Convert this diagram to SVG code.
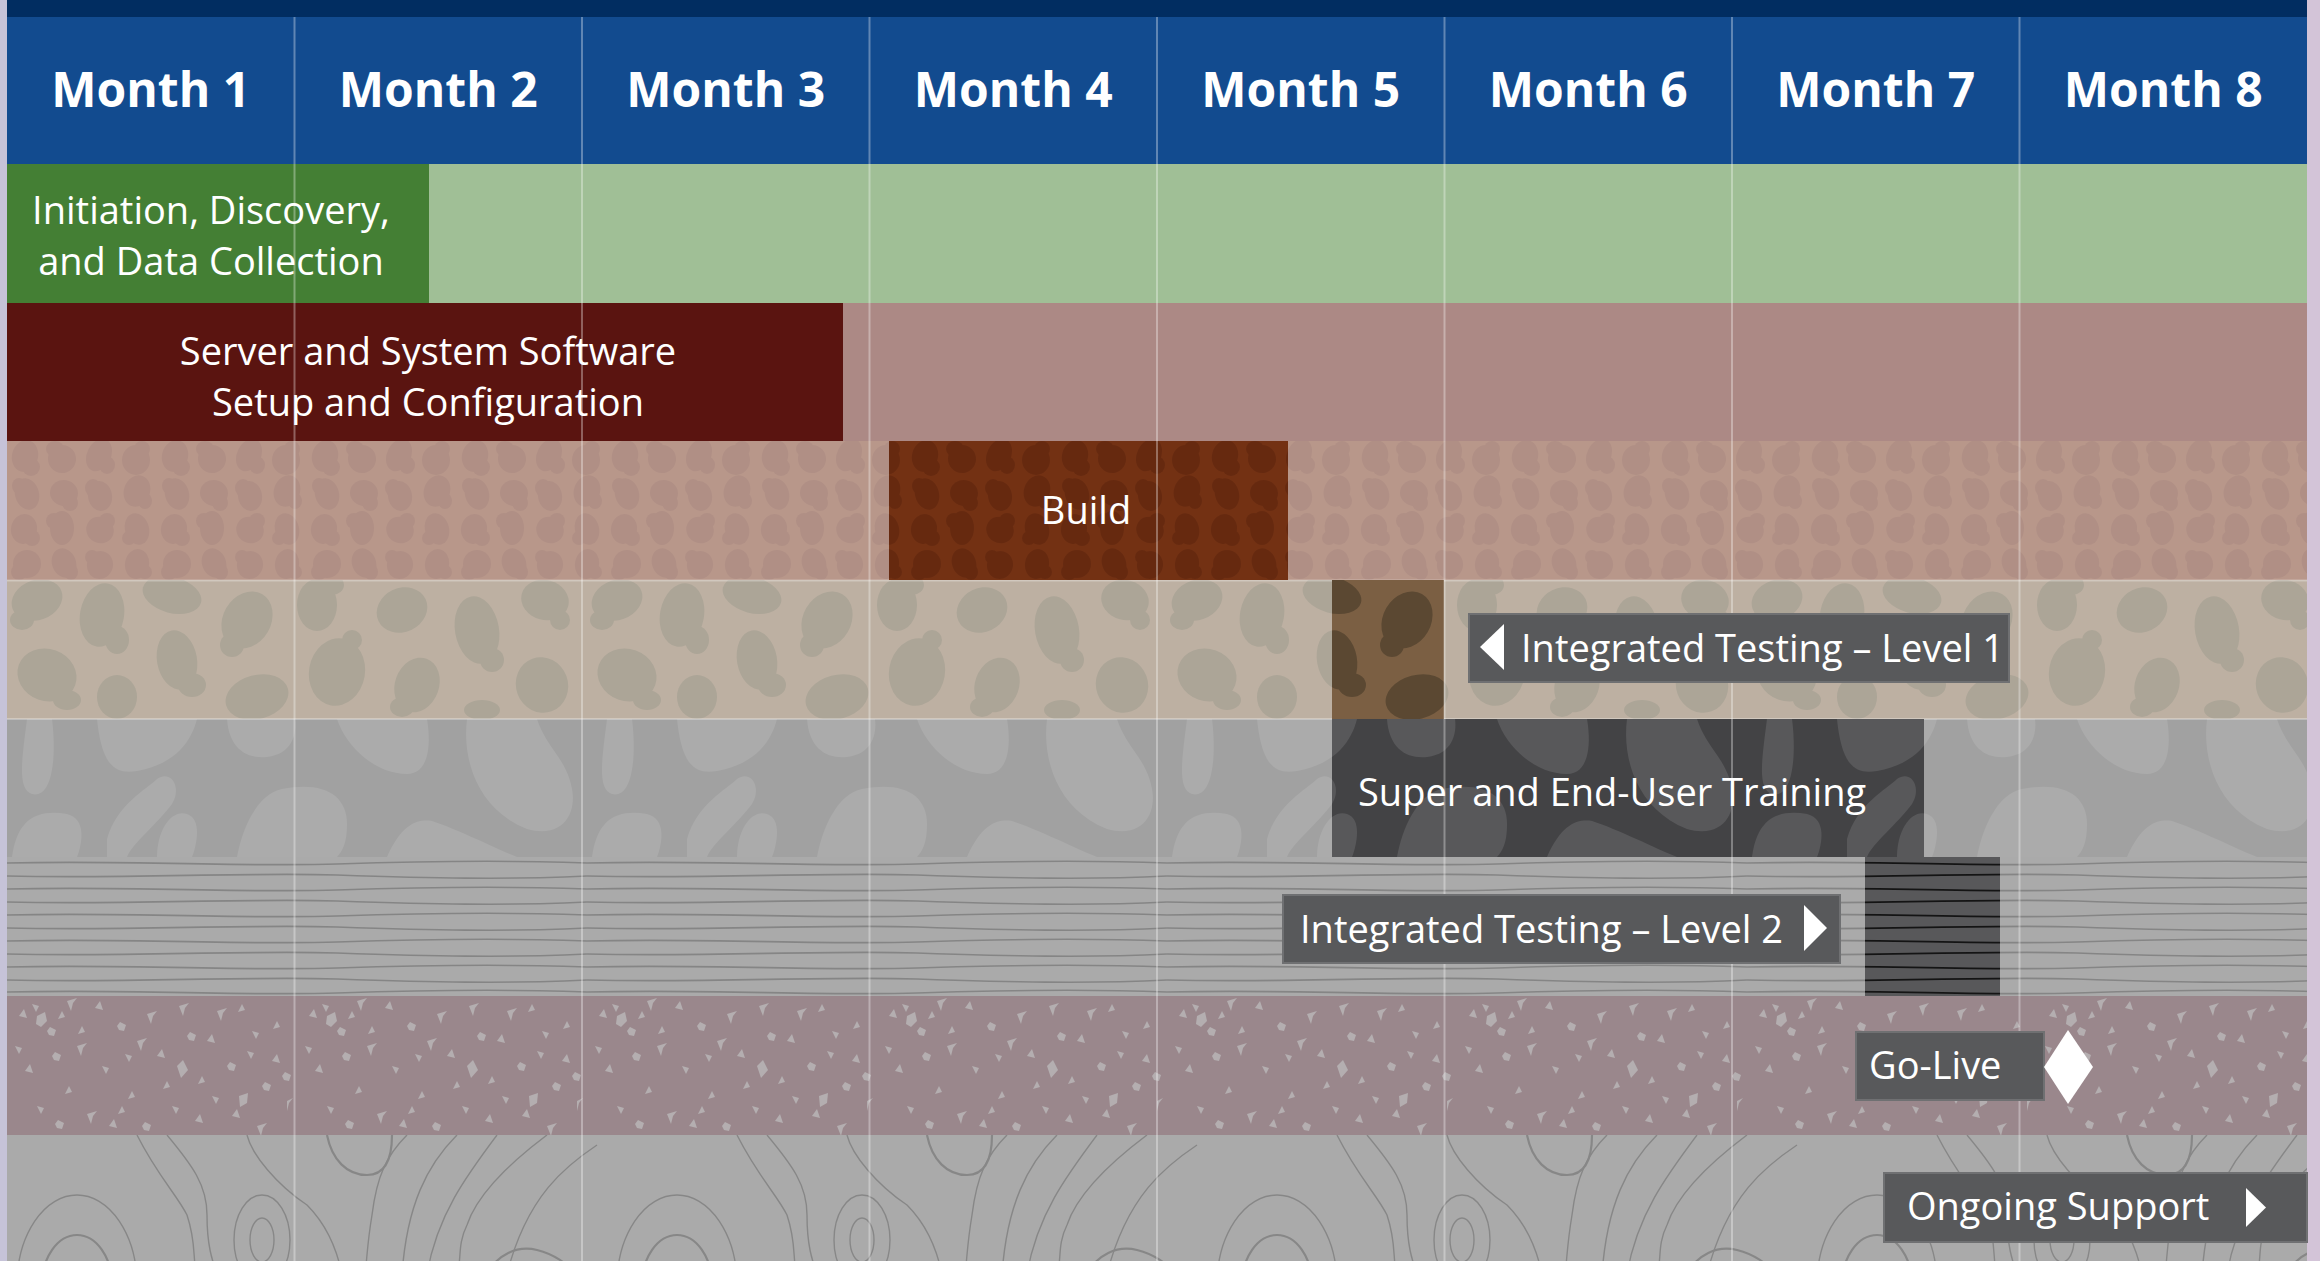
<svg xmlns="http://www.w3.org/2000/svg" xmlns:xlink="http://www.w3.org/1999/xlink" width="2320" height="1261" viewBox="0 0 2320 1261">
<style>
.month{font-family:"Open Sans","Noto Sans",sans-serif;font-weight:700;font-size:48px;fill:#fff;text-anchor:middle}
.lbl{font-family:"Open Sans","Noto Sans",sans-serif;font-size:38px;fill:#fff}
.mid{text-anchor:middle}
.box{fill:#58595b;stroke:#6f7072;stroke-width:2}
.arrow{fill:#fff}
.grid{stroke:#fff;stroke-opacity:0.33;stroke-width:2}
.sep{stroke:#fff;stroke-opacity:0.3;stroke-width:2}
</style>
<defs>
<g id="leoShapes">
<ellipse cx="18" cy="15" rx="13" ry="16" transform="rotate(15 18 15)"/><ellipse cx="24" cy="26" rx="9" ry="9"/>
<ellipse cx="55" cy="18" rx="14" ry="14" transform="rotate(-20 55 18)"/><ellipse cx="48" cy="8" rx="9" ry="8"/>
<ellipse cx="92" cy="14" rx="12" ry="17" transform="rotate(25 92 14)"/><ellipse cx="100" cy="24" rx="8" ry="9"/>
<ellipse cx="129" cy="19" rx="14" ry="15"/><ellipse cx="135" cy="8" rx="8" ry="8"/>
<ellipse cx="20" cy="53" rx="12" ry="16" transform="rotate(-15 20 53)"/><ellipse cx="12" cy="45" rx="7" ry="8"/>
<ellipse cx="57" cy="52" rx="14" ry="13" transform="rotate(10 57 52)"/><ellipse cx="63" cy="62" rx="8" ry="8"/>
<ellipse cx="93" cy="55" rx="12" ry="15" transform="rotate(-10 93 55)"/><ellipse cx="86" cy="47" rx="8" ry="9"/>
<ellipse cx="130" cy="50" rx="13" ry="16" transform="rotate(20 130 50)"/><ellipse cx="138" cy="60" rx="7" ry="8"/>
<ellipse cx="17" cy="88" rx="13" ry="15" transform="rotate(10 17 88)"/><ellipse cx="25" cy="97" rx="8" ry="8"/>
<ellipse cx="55" cy="87" rx="12" ry="17"/><ellipse cx="47" cy="80" rx="8" ry="8"/>
<ellipse cx="93" cy="89" rx="14" ry="13" transform="rotate(30 93 89)"/><ellipse cx="100" cy="80" rx="8" ry="8"/>
<ellipse cx="130" cy="88" rx="12" ry="16" transform="rotate(-15 130 88)"/><ellipse cx="122" cy="97" rx="7" ry="7"/>
<ellipse cx="20" cy="123" rx="14" ry="14"/><ellipse cx="12" cy="131" rx="8" ry="8"/>
<ellipse cx="57" cy="122" rx="12" ry="15" transform="rotate(-20 57 122)"/><ellipse cx="64" cy="131" rx="7" ry="8"/>
<ellipse cx="93" cy="124" rx="13" ry="14" transform="rotate(15 93 124)"/><ellipse cx="85" cy="116" rx="7" ry="7"/>
<ellipse cx="130" cy="123" rx="12" ry="15" transform="rotate(10 130 123)"/><ellipse cx="138" cy="131" rx="7" ry="7"/>
</g>
<g id="blobShapes">
<ellipse cx="30" cy="20" rx="26" ry="20" transform="rotate(-20 30 20)"/><ellipse cx="15" cy="40" rx="12" ry="10"/>
<ellipse cx="95" cy="35" rx="22" ry="32" transform="rotate(10 95 35)"/><ellipse cx="110" cy="60" rx="12" ry="14"/>
<ellipse cx="165" cy="15" rx="30" ry="18" transform="rotate(15 165 15)"/>
<ellipse cx="170" cy="80" rx="20" ry="30" transform="rotate(-10 170 80)"/><ellipse cx="185" cy="105" rx="14" ry="12"/>
<ellipse cx="40" cy="95" rx="30" ry="26" transform="rotate(20 40 95)"/><ellipse cx="60" cy="120" rx="14" ry="10"/>
<ellipse cx="110" cy="117" rx="20" ry="22"/>
<ellipse cx="240" cy="40" rx="24" ry="30" transform="rotate(30 240 40)"/><ellipse cx="225" cy="65" rx="12" ry="12"/>
<ellipse cx="250" cy="117" rx="32" ry="22" transform="rotate(-15 250 117)"/>
<ellipse cx="310" cy="25" rx="20" ry="26"/><ellipse cx="325" cy="5" rx="12" ry="10"/>
<ellipse cx="330" cy="92" rx="28" ry="34" transform="rotate(10 330 92)"/><ellipse cx="345" cy="60" rx="10" ry="10"/>
<ellipse cx="395" cy="30" rx="26" ry="22" transform="rotate(-25 395 30)"/>
<ellipse cx="410" cy="105" rx="22" ry="28" transform="rotate(20 410 105)"/><ellipse cx="395" cy="127" rx="12" ry="10"/>
<ellipse cx="470" cy="50" rx="22" ry="34" transform="rotate(-10 470 50)"/><ellipse cx="485" cy="80" rx="12" ry="12"/>
<ellipse cx="538" cy="20" rx="24" ry="20" transform="rotate(15 538 20)"/><ellipse cx="553" cy="40" rx="10" ry="10"/>
<ellipse cx="535" cy="105" rx="26" ry="28" transform="rotate(-20 535 105)"/>
<ellipse cx="475" cy="130" rx="18" ry="10"/>
</g>
<g id="camoShapes">
<path d="M20,0 C15,40 10,70 25,75 C45,80 50,40 45,0 Z"/>
<path d="M90,0 C95,50 110,55 130,52 C170,45 185,20 190,0 Z"/>
<path d="M5,138 C10,100 30,90 60,95 C80,100 75,125 70,138 Z"/>
<path d="M230,138 C235,110 250,75 275,70 C315,62 340,75 340,105 C340,125 335,132 330,138 Z"/>
<path d="M220,0 C222,30 240,40 260,38 C285,35 290,15 288,0 Z"/>
<path d="M330,0 C340,30 370,55 400,55 C420,55 425,30 420,0 Z"/>
<path d="M380,138 C395,105 410,100 425,102 C450,110 490,130 510,138 Z"/>
<path d="M460,0 C455,40 470,90 520,110 C555,120 570,95 565,70 C560,40 540,30 530,0 Z"/>
<path d="M150,138 C150,110 165,90 180,95 C195,100 190,125 185,138 Z"/>
<path d="M100,120 C110,85 140,70 150,60 C165,50 175,70 165,85 C150,105 125,125 120,138 L100,138 Z"/>
</g>
<g id="woodLines" fill="none" stroke-width="1.6">
<path d="M0,6 C120,3 240,10 330,7 S500,3 580,6"/>
<path d="M0,19 C120,22 240,15 330,18 S500,23 580,19"/>
<path d="M0,32 C120,29 240,36 330,33 S500,29 580,32"/>
<path d="M0,45 C120,48 240,41 330,44 S500,49 580,45"/>
<path d="M0,58 C120,55 240,62 330,59 S500,55 580,58"/>
<path d="M0,71 C120,74 240,67 330,70 S500,75 580,71"/>
<path d="M0,84 C120,81 240,88 330,85 S500,81 580,84"/>
<path d="M0,97 C120,100 240,93 330,96 S500,101 580,97"/>
<path d="M0,110 C120,107 240,114 330,111 S500,107 580,110"/>
<path d="M0,123 C120,126 240,119 330,122 S500,127 580,123"/>
<path d="M0,135 C120,132 240,139 330,136 S500,132 580,135"/>
</g>
<g id="speckShapes">
<path d="M12,20 l5,-7 l3,9 z"/><path d="M25,8 l7,2 l-3,6 z"/><path d="M40,35 l3,-4 l6,3 l-2,6 l-5,-1 z"/>
<path d="M55,15 l-4,8 l7,-2 z"/><path d="M70,50 l10,-3 l-4,5 l-2,8 z"/><path d="M88,12 l5,-7 l3,9 z"/>
<path d="M95,70 l7,2 l-3,6 z"/><path d="M110,30 l3,-4 l6,3 l-2,6 l-5,-1 z"/><path d="M125,95 l-4,8 l7,-2 z"/>
<path d="M140,18 l10,-3 l-4,5 l-2,8 z"/><path d="M150,60 l5,-7 l3,9 z"/><path d="M165,110 l7,2 l-3,6 z"/>
<path d="M180,40 l3,-4 l6,3 l-2,6 l-5,-1 z"/><path d="M195,80 l-4,8 l7,-2 z"/><path d="M210,15 l10,-3 l-4,5 l-2,8 z"/>
<path d="M225,120 l5,-7 l3,9 z"/><path d="M240,55 l7,2 l-3,6 z"/><path d="M255,90 l3,-4 l6,3 l-2,6 l-5,-1 z"/>
<path d="M270,25 l-4,8 l7,-2 z"/><path d="M280,105 l6,-3 l-4,5 l-2,8 z"/><path d="M18,75 l5,-7 l3,9 z"/>
<path d="M30,110 l7,2 l-3,6 z"/><path d="M48,128 l3,-4 l6,3 l-2,6 l-5,-1 z"/><path d="M62,90 l-4,8 l7,-2 z"/>
<path d="M80,118 l10,-3 l-4,5 l-2,8 z"/><path d="M102,130 l5,-7 l3,9 z"/><path d="M118,58 l7,2 l-3,6 z"/>
<path d="M135,130 l3,-4 l6,3 l-2,6 l-5,-1 z"/><path d="M160,85 l-4,8 l7,-2 z"/><path d="M172,10 l10,-3 l-4,5 l-2,8 z"/>
<path d="M188,125 l5,-7 l3,9 z"/><path d="M205,100 l7,2 l-3,6 z"/><path d="M220,70 l3,-4 l6,3 l-2,6 l-5,-1 z"/>
<path d="M235,8 l-4,8 l7,-2 z"/><path d="M250,130 l10,-3 l-4,5 l-2,8 z"/><path d="M265,65 l5,-7 l3,9 z"/>
<path d="M8,50 l7,2 l-3,6 z"/><path d="M45,60 l3,-4 l6,3 l-2,6 l-5,-1 z"/><path d="M75,30 l-4,8 l7,-2 z"/>
<path d="M130,45 l10,-3 l-4,5 l-2,8 z"/><path d="M200,45 l5,-7 l3,9 z"/><path d="M245,35 l7,2 l-3,6 z"/>
<path d="M275,80 l3,-4 l6,3 l-2,6 l-5,-1 z"/><path d="M115,110 l-4,8 l7,-2 z"/><path d="M60,5 l10,-3 l-4,5 l-2,8 z"/>
<path d="M30,20 l8,-4 l2,9 l-6,6 l-5,-3 z"/><path d="M170,70 l6,-6 l5,10 l-7,8 z"/><path d="M232,100 l9,-3 l-1,10 l-7,4 z"/>
</g>
<g id="topoLines" fill="none" stroke="#878787" stroke-width="1.4">
<ellipse cx="70" cy="150" rx="60" ry="90"/>
<ellipse cx="70" cy="150" rx="35" ry="50" stroke-width="2.2"/>
<path d="M130,0 C150,40 170,60 180,80 C190,110 185,125 190,139"/>
<path d="M160,0 C185,30 200,50 200,80 C200,110 205,125 210,139"/>
<ellipse cx="255" cy="105" rx="28" ry="45"/>
<ellipse cx="255" cy="105" rx="12" ry="22"/>
<path d="M240,0 C245,20 270,50 300,70 C320,90 330,115 335,139"/>
<path d="M320,0 C325,25 340,40 360,40 C380,40 385,20 385,0" stroke-width="2.2"/>
<path d="M400,0 C380,20 370,40 365,80 C360,110 360,125 358,139"/>
<path d="M450,0 C420,30 400,70 395,139"/>
<path d="M490,0 C460,40 430,80 420,139"/>
<path d="M540,0 C500,30 470,60 460,90 C450,110 455,125 450,139"/>
<path d="M590,10 C560,30 520,60 500,139"/>
<path d="M480,139 C490,120 510,110 530,115 C550,120 560,130 570,139" stroke-width="2.2"/>
</g>
<pattern id="pLeo" patternUnits="userSpaceOnUse" x="7" y="441" width="150" height="139"><rect width="150" height="139" fill="#b8978a"/><use xlink:href="#leoShapes" fill="#b08f85"/></pattern>
<pattern id="pLeoDark" patternUnits="userSpaceOnUse" x="7" y="441" width="150" height="139"><rect width="150" height="139" fill="#733113"/><use xlink:href="#leoShapes" fill="#66290f"/></pattern>
<pattern id="pBlob" patternUnits="userSpaceOnUse" x="7" y="580" width="580" height="139"><rect width="580" height="139" fill="#bdb0a2"/><use xlink:href="#blobShapes" fill="#aca597"/></pattern>
<pattern id="pBlobDark" patternUnits="userSpaceOnUse" x="7" y="580" width="580" height="139"><rect width="580" height="139" fill="#7b5f43"/><use xlink:href="#blobShapes" fill="#5b4832"/></pattern>
<pattern id="pCamo" patternUnits="userSpaceOnUse" x="7" y="719" width="580" height="138"><rect width="580" height="138" fill="#a1a1a1"/><use xlink:href="#camoShapes" fill="#ababab"/></pattern>
<pattern id="pCamoDark" patternUnits="userSpaceOnUse" x="7" y="719" width="580" height="138"><rect width="580" height="138" fill="#434345"/><use xlink:href="#camoShapes" fill="#58585a"/></pattern>
<pattern id="pWood" patternUnits="userSpaceOnUse" x="7" y="857" width="580" height="139"><rect width="580" height="139" fill="#aaaaaa"/><use xlink:href="#woodLines" stroke="#858585"/></pattern>
<pattern id="pWoodDark" patternUnits="userSpaceOnUse" x="7" y="857" width="580" height="139"><rect width="580" height="139" fill="#58585a"/><use xlink:href="#woodLines" stroke="#141414"/></pattern>
<pattern id="pSpeck" patternUnits="userSpaceOnUse" x="7" y="996" width="290" height="139"><rect width="290" height="139" fill="#9a878c"/><use xlink:href="#speckShapes" fill="#b4aeb0"/></pattern>
<pattern id="pTopo" patternUnits="userSpaceOnUse" x="7" y="1135" width="600" height="139"><rect width="600" height="139" fill="#aaaaaa"/><use xlink:href="#topoLines"/></pattern>
</defs>

<rect x="0" y="0" width="2320" height="1261" fill="#c6c3d8"/>
<rect x="2307" y="0" width="13" height="1261" fill="#d3c4d8"/>

<g id="header">
<rect x="7" y="0" width="2300" height="17" fill="#012d61"/>
<rect x="7" y="17" width="2300" height="147" fill="#124b8f"/>
</g>

<g id="rows">
<rect x="7" y="164" width="2300" height="139" fill="#a0bf96"/>
<rect x="7" y="303" width="2300" height="138" fill="#ac8985"/>
<rect x="7" y="441" width="2300" height="139" fill="url(#pLeo)"/>
<rect x="7" y="580" width="2300" height="139" fill="url(#pBlob)"/>
<rect x="7" y="719" width="2300" height="138" fill="url(#pCamo)"/>
<rect x="7" y="857" width="2300" height="139" fill="url(#pWood)"/>
<rect x="7" y="996" width="2300" height="139" fill="url(#pSpeck)"/>
<rect x="7" y="1135" width="2300" height="126" fill="url(#pTopo)"/>
<line class="sep" x1="7" y1="580.5" x2="2307" y2="580.5"/>
<line class="sep" x1="7" y1="719" x2="2307" y2="719"/>
</g>

<g id="bar-initiation">
<rect x="7" y="164" width="422" height="139" fill="#447f34"/>
<text class="lbl mid" x="211" y="224">Initiation, Discovery,</text>
<text class="lbl mid" x="211" y="275">and Data Collection</text>
</g>
<g id="bar-server">
<rect x="7" y="303" width="836" height="138" fill="#5a1410"/>
<text class="lbl mid" x="428" y="365">Server and System Software</text>
<text class="lbl mid" x="428" y="416">Setup and Configuration</text>
</g>
<g id="bar-build">
<rect x="889" y="441" width="399" height="139" fill="url(#pLeoDark)"/>
<text class="lbl mid" x="1086" y="524">Build</text>
</g>
<g id="bar-testing1">
<rect x="1332" y="580" width="112" height="139" fill="url(#pBlobDark)"/>
</g>
<g id="bar-training">
<rect x="1332" y="719" width="592" height="138" fill="url(#pCamoDark)"/>
<text class="lbl" x="1358" y="806">Super and End-User Training</text>
</g>
<g id="bar-testing2">
<rect x="1865" y="857" width="135" height="139" fill="url(#pWoodDark)"/>
</g>

<g id="gridlines">
<line class="grid" x1="294.5" y1="17" x2="294.5" y2="1261"/>
<line class="grid" x1="582" y1="17" x2="582" y2="1261"/>
<line class="grid" x1="869.5" y1="17" x2="869.5" y2="1261"/>
<line class="grid" x1="1157" y1="17" x2="1157" y2="1261"/>
<line class="grid" x1="1444.5" y1="17" x2="1444.5" y2="1261"/>
<line class="grid" x1="1732" y1="17" x2="1732" y2="1261"/>
<line class="grid" x1="2019.5" y1="17" x2="2019.5" y2="1261"/>
</g>

<g id="months">
<text class="month" x="150.75" y="107">Month 1</text>
<text class="month" x="438.25" y="107">Month 2</text>
<text class="month" x="725.75" y="107">Month 3</text>
<text class="month" x="1013.25" y="107">Month 4</text>
<text class="month" x="1300.75" y="107">Month 5</text>
<text class="month" x="1588.25" y="107">Month 6</text>
<text class="month" x="1875.75" y="107">Month 7</text>
<text class="month" x="2163.25" y="107">Month 8</text>
</g>

<g id="label-testing1">
<rect class="box" x="1469" y="614" width="540" height="68"/>
<polygon class="arrow" points="1504,624 1480,647 1504,670"/>
<text class="lbl" x="1521" y="662">Integrated Testing – Level 1</text>
</g>
<g id="label-testing2">
<rect class="box" x="1283" y="895" width="557" height="68"/>
<text class="lbl" x="1300" y="943">Integrated Testing – Level 2</text>
<polygon class="arrow" points="1804,905 1827,928 1804,951"/>
</g>
<g id="label-golive">
<rect class="box" x="1856" y="1032" width="188" height="68"/>
<text class="lbl" x="1869" y="1079">Go-Live</text>
<polygon class="arrow" points="2068,1030 2093,1067 2068,1104 2044,1067"/>
</g>
<g id="label-support">
<rect class="box" x="1884" y="1173" width="423" height="69"/>
<text class="lbl" x="1907" y="1220">Ongoing Support</text>
<polygon class="arrow" points="2246,1188 2266,1207.5 2246,1227"/>
</g>
<g id="connectors"/>
</svg>
